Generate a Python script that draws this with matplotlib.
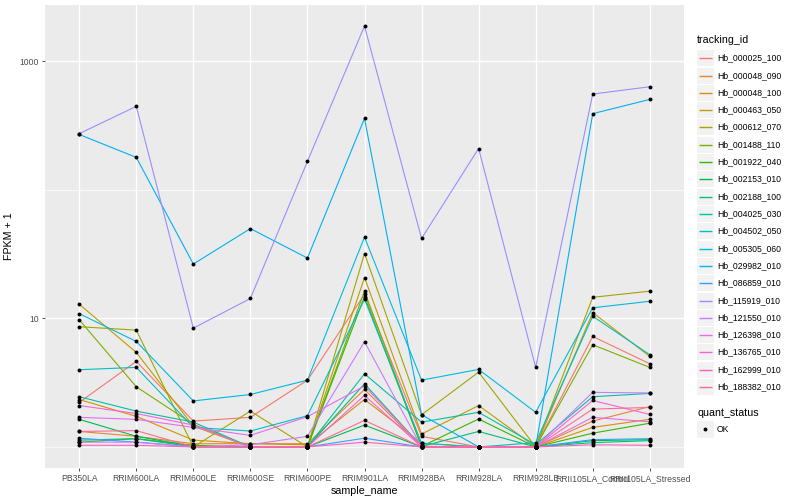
import matplotlib
matplotlib.use("Agg")
import matplotlib.pyplot as plt
import numpy as np
from matplotlib.patches import Rectangle
from matplotlib.ticker import FixedLocator, FuncFormatter, NullFormatter

plt.rcParams["font.family"] = ["Liberation Sans", "DejaVu Sans"]

# samples on the x axis
samples = ["PB350LA", "RRIM600LA", "RRIM600LE", "RRIM600SE", "RRIM600PE",
           "RRIM901LA", "RRIM928BA", "RRIM928LA", "RRIM928LE",
           "RRII105LA_Control", "RRII105LA_Stressed"]

tracking_ids = ["Hb_000025_100", "Hb_000048_090", "Hb_000048_100", "Hb_000463_050",
                "Hb_000612_070", "Hb_001488_110", "Hb_001922_040", "Hb_002153_010",
                "Hb_002188_100", "Hb_004025_030", "Hb_004502_050", "Hb_005305_060",
                "Hb_029982_010", "Hb_086859_010", "Hb_115919_010", "Hb_121550_010",
                "Hb_126398_010", "Hb_136765_010", "Hb_162999_010", "Hb_188382_010"]

# ggplot default hue palette, 20 levels
hue_colors = ["#F8766D", "#EA8331", "#D89000", "#C09B00", "#A3A500", "#7CAE00",
              "#39B600", "#00BB4E", "#00BF7D", "#00C1A3", "#00BFC4", "#00BAE0",
              "#00B0F6", "#35A2FF", "#9590FF", "#C77CFF", "#E76BF3", "#FA62DB",
              "#FF62BC", "#FF6C91"]

# FPKM + 1 per gene (one value per sample)
hb_000025_100 = [2.22, 4.63, 1.59, 1.70, 3.31, 15.4, 1.21, 1.00, 1.00, 7.24, 4.44]
hb_000048_090 = [1.32, 1.21, 1.06, 1.06, 1.06, 2.80, 1.01, 1.00, 1.00, 1.59, 2.06]
hb_000048_100 = [2.34, 1.73, 1.13, 1.06, 1.04, 2.34, 1.07, 1.00, 1.00, 1.42, 1.64]
hb_000463_050 = [12.9, 5.44, 1.45, 1.00, 1.00, 20.8, 1.26, 2.10, 1.00, 11.1, 5.06]
hb_000612_070 = [8.62, 8.11, 1.00, 1.90, 1.00, 32.0, 1.78, 3.82, 1.00, 14.6, 16.3]
hb_001488_110 = [9.77, 2.94, 1.50, 1.00, 1.00, 16.3, 1.01, 1.00, 1.00, 6.24, 4.16]
hb_001922_040 = [1.09, 1.16, 1.03, 1.00, 1.00, 14.8, 1.01, 1.65, 1.00, 1.28, 1.53]
hb_002153_010 = [1.64, 1.21, 1.01, 1.00, 1.00, 1.48, 1.00, 1.00, 1.00, 1.12, 1.14]
hb_002188_100 = [1.13, 1.16, 1.00, 1.00, 1.00, 3.10, 1.01, 1.32, 1.00, 1.08, 1.12]
hb_004025_030 = [2.46, 1.90, 1.56, 1.00, 1.00, 3.71, 1.56, 1.86, 1.04, 2.46, 2.61]
hb_004502_050 = [3.99, 4.16, 1.42, 1.33, 1.75, 14.1, 1.07, 1.00, 1.08, 10.4, 5.22]
hb_005305_060 = [10.9, 6.62, 2.28, 2.56, 3.31, 42.9, 3.31, 4.01, 1.86, 12.1, 13.6]
hb_029982_010 = [270, 179, 26.5, 50, 29.5, 360, 1.78, 1.00, 1.00, 392, 506]
hb_086859_010 = [1.17, 1.09, 1.00, 1.00, 1.00, 1.17, 1.00, 1.00, 1.00, 1.14, 1.16]
hb_115919_010 = [274, 447, 8.4, 14.3, 167, 1884, 41.9, 210, 4.16, 557, 635]
hb_121550_010 = [1.09, 1.09, 1.00, 1.04, 1.21, 6.59, 1.00, 1.00, 1.00, 2.66, 2.63]
hb_126398_010 = [1.70, 1.64, 1.42, 1.23, 1.72, 2.98, 1.01, 1.00, 1.00, 1.70, 1.57]
hb_136765_010 = [2.10, 1.82, 1.48, 1.00, 1.00, 2.52, 1.00, 1.00, 1.00, 2.30, 1.79]
hb_162999_010 = [1.03, 1.03, 1.00, 1.00, 1.00, 1.09, 1.00, 1.00, 1.00, 1.04, 1.03]
hb_188382_010 = [1.32, 1.34, 1.00, 1.00, 1.00, 1.61, 1.00, 1.00, 1.00, 1.97, 2.03]

series = [hb_000025_100, hb_000048_090, hb_000048_100, hb_000463_050, hb_000612_070,
          hb_001488_110, hb_001922_040, hb_002153_010, hb_002188_100, hb_004025_030,
          hb_004502_050, hb_005305_060, hb_029982_010, hb_086859_010, hb_115919_010,
          hb_121550_010, hb_126398_010, hb_136765_010, hb_162999_010, hb_188382_010]

quant_status = ["OK"]

fig = plt.figure(figsize=(8, 5), dpi=100)
ax = fig.add_axes([45 / 800, 1 - 468 / 500, (684 - 45) / 800, (468 - 5) / 500])
ax.set_facecolor("#EBEBEB")
for s in ax.spines.values():
    s.set_visible(False)

x = np.arange(len(samples))
for vals, col in zip(series, hue_colors):
    ax.plot(x, vals, color=col, lw=0.8, zorder=2)
for vals in series:
    ax.scatter(x, vals, s=8, color="black", zorder=3, linewidths=0)

ax.set_yscale("log")
allv = np.log10(np.concatenate([np.asarray(v, float) for v in series]))
lo, hi = allv.min(), allv.max()
pad = 0.05 * (hi - lo)
ax.set_ylim(10 ** (lo - pad), 10 ** (hi + pad))
ax.set_xlim(-0.6, len(samples) - 0.4)

ax.yaxis.set_major_locator(FixedLocator([10, 1000]))
ax.yaxis.set_major_formatter(FuncFormatter(lambda v, p: f"{v:g}"))
ax.yaxis.set_minor_locator(FixedLocator([1, 100]))
ax.yaxis.set_minor_formatter(NullFormatter())
ax.set_xticks(x)
ax.set_xticklabels(samples)

ax.grid(True, which="major", color="white", lw=1.0, zorder=0)
ax.grid(True, which="minor", axis="y", color="white", lw=0.5, zorder=0)
ax.set_axisbelow(True)
ax.tick_params(which="major", length=2.5, width=0.6, color="#333333",
               labelcolor="#4D4D4D", labelsize=6.2, pad=2)
ax.tick_params(which="minor", length=0)

ax.set_xlabel("sample_name", fontsize=7.7, labelpad=2)
ax.set_ylabel("FPKM + 1", fontsize=7.7, labelpad=4)

# legends drawn in pixel coordinates on an overlay
ov = fig.add_axes([0, 0, 1, 1], facecolor="none")
ov.set_xlim(0, 800)
ov.set_ylim(500, 0)
ov.axis("off")

ov.text(697, 40, "tracking_id", fontsize=7.7, va="center", ha="left")
for i, (name, col) in enumerate(zip(tracking_ids, hue_colors)):
    yc = round(57.3 + 17.3 * i) + 0.5
    ov.add_patch(Rectangle((697, yc - 8), 16.5, 16.5, facecolor="#F2F2F2",
                           edgecolor="none"))
    ov.plot([698.5, 711.5], [yc, yc], color=col, lw=1.0, solid_capstyle="butt")
    ov.text(717, yc, name, fontsize=6.2, va="center", ha="left")

ov.text(697, 412.5, "quant_status", fontsize=7.7, va="center", ha="left")
for j, name in enumerate(quant_status):
    yc = 429 + 17.3 * j
    ov.add_patch(Rectangle((697, yc - 8), 16.5, 16.5, facecolor="#F2F2F2",
                           edgecolor="none"))
    ov.scatter([705.2], [yc], s=8, color="black", linewidths=0)
    ov.text(717, yc, name, fontsize=6.2, va="center", ha="left")

fig.savefig("out.png", dpi=100)
